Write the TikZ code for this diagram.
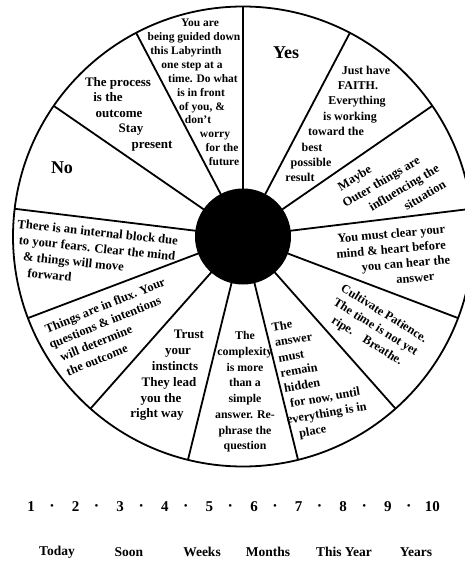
\documentclass[tikz,border=0pt]{standalone}
\usepackage{fontspec}
\setmainfont{Liberation Serif}
\newcommand\mv[2]{\hspace*{#1pt}#2}
\begin{document}
\begin{tikzpicture}[x=1pt,y=-1pt,
  wt/.style args={#1/#2}{font=\bfseries\fontsize{#1}{#2}\selectfont, inner sep=0pt, align=center},
  big/.style={font=\bfseries\fontsize{18}{20}\selectfont, inner sep=0pt},
  num/.style={font=\bfseries\fontsize{15}{17}\selectfont, inner sep=0pt},
  dot/.style={font=\fontsize{11}{12}\selectfont, inner sep=0pt},
  lab/.style={font=\bfseries\fontsize{13.5}{15}\selectfont, inner sep=0pt},
  spoke/.style={line width=1.8pt, black},
  rim/.style={line width=1.8pt, black}]
\useasboundingbox (0,0) rectangle (465,562);
\clip (0,0) rectangle (465,562);
\fill[white] (0,0) rectangle (465,562);
\coordinate (c) at (243,236.5);
% spokes
\begin{scope}
  \clip (c) circle[radius=230pt];
  \foreach \k in {0,...,12}
    \draw[spoke] (c) -- ++({90+\k*360/13}:240pt);
\end{scope}
% rim and hub
\draw[rim] (c) circle[radius=230pt];
\fill[black] (c) circle[radius=48pt];
% segment 1
\node[wt=11.5/13.9] (s1) at (200,92.5) {You are\\ \mv{-12}{being guided down}\\
  \mv{-28}{this Labyrinth}\\ \mv{-16}{one step at a}\\ \mv{6}{time. Do what}\\
  \mv{2}{is in front}\\ \mv{4}{of you, \&}\\ \mv{-4}{don't}\\ \mv{30}{worry}\\
  \mv{44}{for the}\\ \mv{48}{future}};
% segment 2
\node[big] (yes) at (286,53) {Yes};
% segment 3
\node[wt=12/15.4] (s3) at (340,124) {\mv{52}{Just have}\\ \mv{36}{FAITH.}\\
  \mv{34}{Everything}\\ \mv{20}{is working}\\ \mv{-8}{toward the}\\
  \mv{-56}{best}\\ \mv{-58}{possible}\\ \mv{-80}{result}};
% segment 4
\node[wt=12.5/16.9, rotate=31] (s4) at (391,185.5) {\mv{-55}{Maybe}\\
  \mv{-13}{Outer things are}\\ \mv{20}{influencing the}\\ \mv{48}{situation}};
% segment 5
\node[wt=12.5/15.3, rotate=5] (s5) at (400.75,256) {\mv{-15}{You must clear your}\\
  \mv{-18}{mind \& heart before}\\ \mv{9}{you can hear the}\\ \mv{25}{answer}};
% segment 6
\node[wt=12.3/16, rotate=-32] (s6) at (375.3,327.7) {Cultivate Patience.\\
  The time is not yet\\ ripe.\quad Breathe.};
% segment 7
\node[wt=12.3/15.6, rotate=10] (s7) at (303.4,378.6) {\mv{-24}{The}\\
  \mv{-6}{answer}\\ \mv{-16}{must}\\ \mv{-6}{remain}\\ \mv{-5}{hidden}\\
  \mv{36}{for now, until}\\ \mv{34}{everything is in}\\ place};
% segment 8
\node[wt=11.8/15.7] (s8) at (245,392) {The\\ complexity\\ is more\\ than a\\
  simple\\ answer. Re-\\ phrase the\\ question};
% segment 9
\node[wt=13/15.8] (s9) at (172,375.5) {\mv{34}{Trust}\\ \mv{12}{your}\\
  \mv{6}{instincts}\\ \mv{-6}{They lead}\\ \mv{-22}{you the}\\ \mv{-30}{right way}};
% segment 10
\node[wt=12.5/15.9, rotate=22] (s10) at (101,332.5) {\mv{28}{Things are in flux. Your}\\
  \mv{15}{questions \& intentions}\\ \mv{-17}{will determine}\\ \mv{-28}{the outcome}};
% segment 11
\node[wt=12.6/15.9, align=left, rotate=-6, anchor=west] (s11) at (15,247.5)
  {There is an internal block due\\ \mv{3}{to your fears. Clear the mind}\\
  \mv{9}{\& things will move}\\ \mv{15}{forward}};
% segment 12
\node[big] (no) at (62,168) {No};
% segment 13
\node[wt=13/15.5] (s13) at (125,114) {\mv{-14}{The process}\\ \mv{-34}{is the}\\
  \mv{-12}{outcome}\\ \mv{12}{Stay}\\ \mv{54}{present}};
% scale
\foreach \n in {1,...,10}
  \node[num] (n\n) at ({31+44.6*(\n-1)},507) {\n};
\foreach \n in {1,...,9}
  \node[dot] (d\n) at ({31+44.6*(\n-1)+21},507) {\textbullet};
\foreach \x/\t [count=\i] in {57/Today, 129/Soon, 202/Weeks, 268/Months,
  344/This Year, 416/Years}
  \node[lab] (l\i) at (\x,552) {\t};
\end{tikzpicture}
\end{document}
